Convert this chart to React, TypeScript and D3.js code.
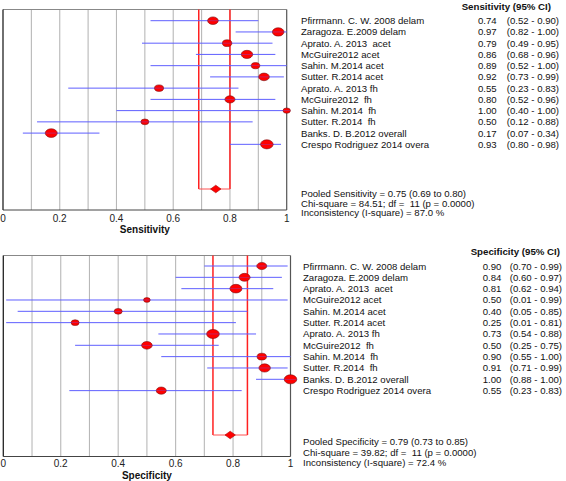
import React from "react";
import * as d3 from "d3";

const studies = [
  "Pfirrmann. C. W. 2008 delam",
  "Zaragoza. E.2009 delam",
  "Aprato. A. 2013  acet",
  "McGuire2012 acet",
  "Sahin. M.2014 acet",
  "Sutter. R.2014 acet",
  "Aprato. A. 2013 fh",
  "McGuire2012  fh",
  "Sahin. M.2014  fh",
  "Sutter. R.2014  fh",
  "Banks. D. B.2012 overall",
  "Crespo Rodriguez 2014 overa",
];

const sens = [0.74, 0.97, 0.79, 0.86, 0.89, 0.92, 0.55, 0.8, 1.0, 0.5, 0.17, 0.93];
const sensLo = [0.52, 0.82, 0.49, 0.68, 0.52, 0.73, 0.23, 0.52, 0.4, 0.12, 0.07, 0.8];
const sensHi = [0.9, 1.0, 0.95, 0.96, 1.0, 0.99, 0.83, 0.96, 1.0, 0.88, 0.34, 0.98];
const sensWeight = [5.3, 5.8, 4.7, 5.7, 4.3, 5.3, 4.5, 5.0, 3.7, 4.0, 6.0, 6.3];

const spec = [0.9, 0.84, 0.81, 0.5, 0.4, 0.25, 0.73, 0.5, 0.9, 0.91, 1.0, 0.55];
const specLo = [0.7, 0.6, 0.62, 0.01, 0.05, 0.01, 0.54, 0.25, 0.55, 0.71, 0.88, 0.23];
const specHi = [0.99, 0.97, 0.94, 0.99, 0.85, 0.81, 0.88, 0.75, 1.0, 0.99, 1.0, 0.83];
const specWeight = [5.0, 5.5, 6.0, 3.3, 4.0, 4.0, 6.3, 5.3, 4.7, 5.7, 6.3, 5.0];

const sensPooled = { est: 0.75, lo: 0.69, hi: 0.8 };
const specPooled = { est: 0.79, lo: 0.73, hi: 0.85 };

const sensStats = [
  "Pooled Sensitivity = 0.75 (0.69 to 0.80)",
  "Chi-square = 84.51; df =  11 (p = 0.0000)",
  "Inconsistency (I-square) = 87.0 %",
];
const specStats = [
  "Pooled Specificity = 0.79 (0.73 to 0.85)",
  "Chi-square = 39.82; df =  11 (p = 0.0000)",
  "Inconsistency (I-square) = 72.4 %",
];

const xTicks = [0, 0.2, 0.4, 0.6, 0.8, 1];
const gridTicks = [0.1, 0.2, 0.3, 0.4, 0.5, 0.6, 0.7, 0.8, 0.9];

const FONT = "'Liberation Sans', Arial, Helvetica, sans-serif";

type Layout = {
  x0: number; x1: number; yTop: number; yBot: number;
  row0: number; rowStep: number; pooledY: number;
  tickY: number; titleY: number;
  headerRight: number; headerY: number;
  nameX: number; valX: number; ciRight: number; statsY: number[]; statsX: number;
};

function Panel(props: {
  title: string; header: string; est: number[]; lo: number[]; hi: number[]; w: number[];
  pooled: { est: number; lo: number; hi: number }; stats: string[]; L: Layout;
}) {
  const { title, header, est, lo, hi, w, pooled, stats, L } = props;
  const x = d3.scaleLinear().domain([0, 1]).range([L.x0, L.x1]);
  const y = d3.scaleLinear().domain([0, 1]).range([L.row0, L.row0 + L.rowStep]);
  const r = d3.scaleLinear().domain([0, 1]).range([0, 1]);
  const f2 = d3.format(".2f");
  const dx = 5.2, dy = 3.8;
  const px = x(pooled.est);
  const diamond = `M${px - dx},${L.pooledY} L${px},${L.pooledY - dy} L${px + dx},${L.pooledY} L${px},${L.pooledY + dy} Z`;
  return (
    <g fontFamily={FONT}>
      {gridTicks.map((t) => (
        <line key={t} x1={x(t)} x2={x(t)} y1={L.yTop} y2={L.yBot} stroke="#b8b8b8" strokeWidth={1.1} />
      ))}
      <line x1={L.x0} x2={L.x1} y1={L.yTop} y2={L.yTop} stroke="#888" strokeWidth={1} />
      <line x1={L.x1} x2={L.x1} y1={L.yTop} y2={L.yBot} stroke="#555" strokeWidth={1.2} />
      <line x1={L.x0} x2={L.x1} y1={L.yBot} y2={L.yBot} stroke="#444" strokeWidth={1} />
      <line x1={L.x0} x2={L.x0} y1={L.yTop} y2={L.yBot} stroke="#222" strokeWidth={1.3} />
      <line x1={x(pooled.lo)} x2={x(pooled.lo)} y1={L.yTop} y2={L.pooledY} stroke="#ff2020" strokeWidth={1.5} />
      <line x1={x(pooled.hi)} x2={x(pooled.hi)} y1={L.yTop} y2={L.pooledY} stroke="#ff2020" strokeWidth={1.5} />
      <line x1={x(pooled.lo)} x2={x(pooled.hi)} y1={L.pooledY} y2={L.pooledY} stroke="#ff5050" strokeWidth={1} />
      <path d={diamond} fill="#ff0000" stroke="#aa0000" strokeWidth={0.6} />
      {est.map((e, i) => (
        <g key={i}>
          <line x1={x(lo[i])} x2={x(hi[i])} y1={y(i)} y2={y(i)} stroke="#5f5fff" strokeWidth={1} />
          <ellipse cx={x(e)} cy={y(i)} rx={r(w[i])} ry={r(w[i]) * 0.72} fill="#ff0000" stroke="#7a1010" strokeWidth={0.6} />
          <line x1={x(e) - r(w[i])} x2={x(e) + r(w[i])} y1={y(i)} y2={y(i)} stroke="#5f5fff" strokeWidth={0.6} opacity={0.6} />
        </g>
      ))}
      {xTicks.map((t) => (
        <text key={t} x={x(t)} y={L.tickY} textAnchor="middle" dominantBaseline="central" fontSize={10} fill="#222">
          {String(+t.toFixed(1))}
        </text>
      ))}
      <text x={(L.x0 + L.x1) / 2} y={L.titleY} textAnchor="middle" dominantBaseline="central" fontSize={10} fontWeight="bold" fill="#111">
        {title}
      </text>
      <text x={L.headerRight} y={L.headerY} textAnchor="end" dominantBaseline="central" fontSize={9.7} fontWeight="bold" fill="#111">
        {header}
      </text>
      {studies.map((s, i) => (
        <g key={s} fontSize={9.6} fill="#111">
          <text x={L.nameX} y={y(i)} dominantBaseline="central" style={{ whiteSpace: "pre" }}>{s}</text>
          <text x={L.valX} y={y(i)} dominantBaseline="central">{f2(est[i])}</text>
          <text x={L.ciRight} y={y(i)} textAnchor="end" dominantBaseline="central">{`(${f2(lo[i])} - ${f2(hi[i])})`}</text>
        </g>
      ))}
      {stats.map((s, i) => (
        <text key={s} x={L.statsX} y={L.statsY[i]} dominantBaseline="central" fontSize={9.6} fill="#111" style={{ whiteSpace: "pre" }}>
          {s}
        </text>
      ))}
    </g>
  );
}

const topLayout: Layout = {
  x0: 3, x1: 286.7, yTop: 9.5, yBot: 210, row0: 20.7, rowStep: 11.24, pooledY: 189,
  tickY: 218, titleY: 229, headerRight: 551, headerY: 6,
  nameX: 301, valX: 478, ciRight: 559, statsY: [193.5, 203, 212.5], statsX: 301,
};
const botLayout: Layout = {
  x0: 3.3, x1: 290.5, yTop: 255.5, yBot: 456.5, row0: 266, rowStep: 11.33, pooledY: 435,
  tickY: 463.5, titleY: 475.5, headerRight: 560, headerY: 251,
  nameX: 303, valX: 482.7, ciRight: 562, statsY: [441.5, 452, 462.5], statsX: 303,
};

export default function App() {
  return (
    <svg width={566} height={481} style={{ position: "absolute", left: 0, top: 0, background: "#fff" }}>
      <rect width={566} height={481} fill="#fff" />
      <Panel title="Sensitivity" header="Sensitivity (95% CI)" est={sens} lo={sensLo} hi={sensHi} w={sensWeight} pooled={sensPooled} stats={sensStats} L={topLayout} />
      <Panel title="Specificity" header="Specificity (95% CI)" est={spec} lo={specLo} hi={specHi} w={specWeight} pooled={specPooled} stats={specStats} L={botLayout} />
    </svg>
  );
}
